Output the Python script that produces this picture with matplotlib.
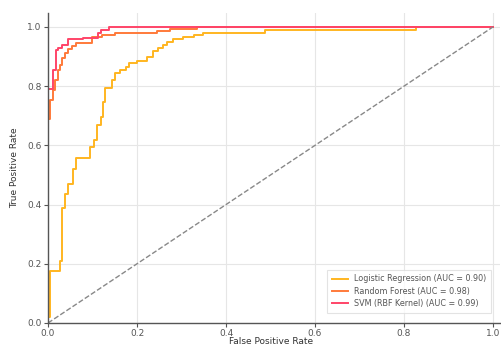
import numpy as np
import matplotlib
matplotlib.use("Agg")
import matplotlib.pyplot as plt

# ROC step curves
lr_fpr = [0.0, 0.0, 0.004, 0.004, 0.027, 0.027, 0.031, 0.031, 0.038, 0.038, 0.045, 0.045,
          0.057, 0.057, 0.063, 0.063, 0.094, 0.094, 0.103, 0.103, 0.109, 0.109, 0.118, 0.118,
          0.124, 0.124, 0.128, 0.128, 0.143, 0.143, 0.151, 0.151, 0.162, 0.162, 0.175, 0.175,
          0.181, 0.181, 0.199, 0.199, 0.222, 0.222, 0.237, 0.237, 0.248, 0.248, 0.259, 0.259,
          0.267, 0.267, 0.282, 0.282, 0.304, 0.304, 0.327, 0.327, 0.349, 0.349, 0.488, 0.488,
          0.828, 0.828, 1.0]
lr_tpr = [0.0, 0.02, 0.02, 0.177, 0.177, 0.21, 0.21, 0.39, 0.39, 0.435, 0.435, 0.47,
          0.47, 0.52, 0.52, 0.556, 0.556, 0.596, 0.596, 0.618, 0.618, 0.669, 0.669, 0.697,
          0.697, 0.748, 0.748, 0.793, 0.793, 0.821, 0.821, 0.846, 0.846, 0.855, 0.855, 0.866,
          0.866, 0.877, 0.877, 0.886, 0.886, 0.9, 0.9, 0.917, 0.917, 0.928, 0.928, 0.939,
          0.939, 0.95, 0.95, 0.958, 0.958, 0.965, 0.965, 0.973, 0.973, 0.979, 0.979, 0.99,
          0.99, 1.0, 1.0]

rf_fpr = [0.0, 0.0, 0.0045, 0.0045, 0.011, 0.011, 0.016, 0.016, 0.023, 0.023, 0.027, 0.027,
          0.032, 0.032, 0.039, 0.039, 0.046, 0.046, 0.053, 0.053, 0.062, 0.062, 0.098, 0.098,
          0.122, 0.122, 0.15, 0.15, 0.244, 0.244, 0.274, 0.274, 0.334, 0.334, 1.0]
rf_tpr = [0.0, 0.69, 0.69, 0.753, 0.753, 0.787, 0.787, 0.821, 0.821, 0.855, 0.855, 0.872,
          0.872, 0.894, 0.894, 0.911, 0.911, 0.925, 0.925, 0.934, 0.934, 0.945, 0.945, 0.965,
          0.965, 0.973, 0.973, 0.979, 0.979, 0.985, 0.985, 0.992, 0.992, 1.0, 1.0]

svm_fpr = [0.0, 0.0, 0.012, 0.012, 0.018, 0.018, 0.023, 0.023, 0.031, 0.031, 0.046, 0.046,
           0.079, 0.079, 0.113, 0.113, 0.12, 0.12, 0.136, 0.136, 1.0]
svm_tpr = [0.0, 0.79, 0.79, 0.855, 0.855, 0.922, 0.922, 0.93, 0.93, 0.939, 0.939, 0.958,
           0.958, 0.964, 0.964, 0.979, 0.979, 0.99, 0.99, 1.0, 1.0]

labels = ["Logistic Regression (AUC = 0.90)",
          "Random Forest (AUC = 0.98)",
          "SVM (RBF Kernel) (AUC = 0.99)"]
colors = ["#FFB520", "#FF7A3A", "#FF4468"]

fig = plt.figure(figsize=(5.01, 3.47), dpi=100)
ax = fig.add_axes([48 / 501, 24 / 347, 452 / 501, 310 / 347])

ax.plot(lr_fpr, lr_tpr, color=colors[0], lw=1.4, label=labels[0])
ax.plot(rf_fpr, rf_tpr, color=colors[1], lw=1.4, label=labels[1])
ax.plot(svm_fpr, svm_tpr, color=colors[2], lw=1.4, label=labels[2])
ax.plot([0, 1], [0, 1], color="#888888", ls="--", lw=1.0)

ax.set_xlim(0, 1.0157)
ax.set_ylim(0, 1.047)
ax.set_xticks([0, 0.2, 0.4, 0.6, 0.8, 1.0])
ax.set_yticks([0, 0.2, 0.4, 0.6, 0.8, 1.0])
ax.grid(True, color="#e6e6e6", lw=0.8)
ax.set_axisbelow(True)
for s in ["top", "right"]:
    ax.spines[s].set_visible(False)
for s in ["left", "bottom"]:
    ax.spines[s].set_color("#555555")
    ax.spines[s].set_linewidth(1.0)
ax.tick_params(labelsize=6.5, colors="#555555", length=3, width=0.8, pad=1.5)
ax.set_xlabel("False Positive Rate", fontsize=6.5, color="#333333")
ax.set_ylabel("True Positive Rate", fontsize=6.5, color="#333333")
ax.xaxis.set_label_coords(0.493, -0.045)
ax.yaxis.set_label_coords(-0.065, 0.5)

leg = ax.legend(loc="lower right", fontsize=5.8, frameon=True, fancybox=False,
                handlelength=2.0, borderpad=0.6, labelspacing=0.4,
                bbox_to_anchor=(0.99, 0.02))
leg.get_frame().set_edgecolor("#dddddd")
leg.get_frame().set_linewidth(0.8)
for t in leg.get_texts():
    t.set_color("#555555")

fig.savefig("out.png", dpi=100)
